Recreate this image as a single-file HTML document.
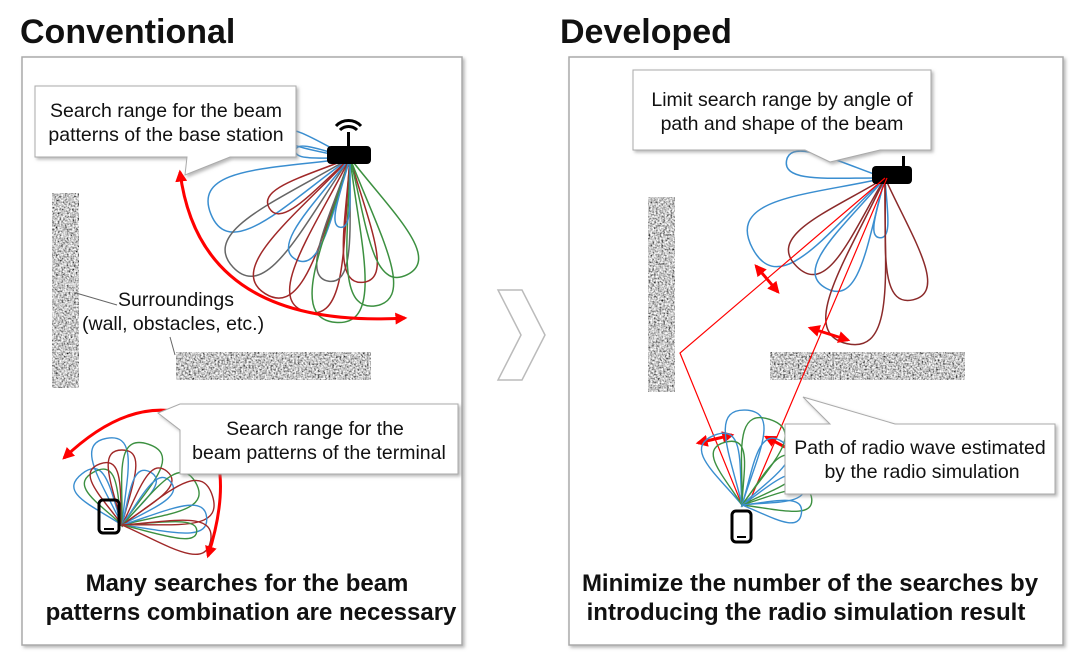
<!DOCTYPE html>
<html><head><meta charset="utf-8"><style>
body{margin:0;background:#fff;width:1070px;height:660px;overflow:hidden}
svg{display:block}
text{font-family:"Liberation Sans",Arial,sans-serif}
</style></head><body>
<svg width="1070" height="660" viewBox="0 0 1070 660" xmlns="http://www.w3.org/2000/svg">
<defs>
<filter id="noise" x="0" y="0" width="100%" height="100%">
<feTurbulence type="fractalNoise" baseFrequency="0.55" numOctaves="2" seed="3"/>
<feColorMatrix type="matrix" values="1.9 0 0 0 -0.38  1.9 0 0 0 -0.38  1.9 0 0 0 -0.38  0 0 0 0 1"/>
</filter>
<filter id="sh" x="-10%" y="-10%" width="130%" height="140%"><feDropShadow dx="2" dy="2" stdDeviation="1.5" flood-color="#888" flood-opacity="0.6"/></filter>
<marker id="ah" viewBox="0 0 10 10" refX="8" refY="5" markerWidth="4" markerHeight="4" orient="auto-start-reverse"><path d="M0,0L10,5L0,10z" fill="#f00"/></marker>
<path id="p" d="M0,0 C0.5,-0.45 1,-1.3 1,0 C1,1.3 0.5,0.45 0,0 Z" fill="none" vector-effect="non-scaling-stroke"/>
</defs>
<text x="20" y="43" font-size="34" font-weight="bold" fill="#111">Conventional</text>
<text x="560" y="43" font-size="34" font-weight="bold" fill="#111">Developed</text>
<rect x="22" y="57" width="440" height="588" fill="#fff" stroke="#aaa" stroke-width="1.5" filter="url(#sh)"/>
<rect x="569" y="57" width="494" height="588" fill="#fff" stroke="#aaa" stroke-width="1.5" filter="url(#sh)"/>
<path d="M498,290 L522,290 L545,335 L522,380 L498,380 L521,335 Z" fill="#fff" stroke="#bbb" stroke-width="1.5"/>
<rect x="52" y="193" width="27" height="195" filter="url(#noise)"/>
<rect x="176" y="352" width="195" height="28" filter="url(#noise)"/>
<rect x="648" y="197" width="27" height="195" filter="url(#noise)"/>
<rect x="770" y="352" width="195" height="28" filter="url(#noise)"/>
<g stroke-width="1.5" transform="translate(350,158)">
<use href="#p" stroke="#3a8ed0" transform="rotate(200) scale(70,10)"/>
<use href="#p" stroke="#3a8ed0" transform="rotate(188) scale(55,8)"/>
<use href="#p" stroke="#3a8ed0" transform="rotate(158) scale(150,40)"/>
<use href="#p" stroke="#666" transform="rotate(137) scale(160,38)"/>
<use href="#p" stroke="#a02828" transform="rotate(148) scale(95,18)"/>
<use href="#p" stroke="#a02828" transform="rotate(122) scale(160,36)"/>
<use href="#p" stroke="#3a8ed0" transform="rotate(118) scale(115,22)"/>
<use href="#p" stroke="#a02828" transform="rotate(106) scale(160,34)"/>
<use href="#p" stroke="#666" transform="rotate(100) scale(125,22)"/>
<use href="#p" stroke="#3c9040" transform="rotate(95) scale(165,38)"/>
<use href="#p" stroke="#a02828" transform="rotate(84) scale(125,24)"/>
<use href="#p" stroke="#3c9040" transform="rotate(80) scale(150,32)"/>
<use href="#p" stroke="#3c9040" transform="rotate(64) scale(130,30)"/>
<use href="#p" stroke="#3a8ed0" transform="rotate(98) scale(70,10)"/>
</g>
<rect x="327" y="146" width="44" height="18" rx="4" fill="#000"/>
<rect x="347" y="132" width="3" height="14" fill="#000"/>
<path d="M340,130 a12,12 0 0 1 17,0 M336,126 a17,17 0 0 1 25,0" stroke="#000" stroke-width="3" fill="none"/>
<path d="M180,172 Q200,330 405,318" fill="none" stroke="#f00" stroke-width="3" marker-start="url(#ah)" marker-end="url(#ah)"/>
<path d="M35,86 L296,86 L296,157 L230,157 L185,175 L187,157 L35,157 Z" fill="#fff" stroke="#aaa" filter="url(#sh)"/>
<text font-size="19.5" fill="#111"><tspan x="166" y="117" text-anchor="middle">Search range for the beam</tspan><tspan x="166" y="141" text-anchor="middle">patterns of the base station</tspan></text>
<path d="M76,293 L117,305 M170,337 L175,355" stroke="#666" fill="none"/>
<text font-size="19.5" fill="#111"><tspan x="118" y="306">Surroundings</tspan><tspan x="82" y="330">(wall, obstacles, etc.)</tspan></text>
<g stroke-width="1.4" transform="translate(122,525)">
<use href="#p" stroke="#3a8ed0" transform="rotate(-128) scale(65,24)"/>
<use href="#p" stroke="#3c9040" transform="rotate(-118) scale(60,22)"/>
<use href="#p" stroke="#3a8ed0" transform="rotate(-100) scale(88,26)"/>
<use href="#p" stroke="#a02828" transform="rotate(-110) scale(65,20)"/>
<use href="#p" stroke="#a02828" transform="rotate(-90) scale(75,20)"/>
<use href="#p" stroke="#3c9040" transform="rotate(-72) scale(85,28)"/>
<use href="#p" stroke="#3a8ed0" transform="rotate(-62) scale(60,16)"/>
<use href="#p" stroke="#a02828" transform="rotate(-50) scale(70,18)"/>
<use href="#p" stroke="#3a8ed0" transform="rotate(-42) scale(65,16)"/>
<use href="#p" stroke="#3c9040" transform="rotate(-30) scale(85,26)"/>
<use href="#p" stroke="#a02828" transform="rotate(-18) scale(95,30)"/>
<use href="#p" stroke="#3a8ed0" transform="rotate(-5) scale(85,20)"/>
<use href="#p" stroke="#3c9040" transform="rotate(5) scale(75,12)"/>
<use href="#p" stroke="#a02828" transform="rotate(10) scale(90,24)"/>
</g>
<rect x="99" y="500" width="20" height="33" rx="4" fill="none" stroke="#000" stroke-width="3"/>
<rect x="104" y="528" width="10" height="2" fill="#000"/>
<path d="M64,458 Q130,395 190,415 Q240,455 208,556" fill="none" stroke="#f00" stroke-width="3" marker-start="url(#ah)" marker-end="url(#ah)"/>
<path d="M158,413 L180,404 L458,404 L458,474 L180,474 L180,430 Z" fill="#fff" stroke="#aaa" filter="url(#sh)"/>
<text font-size="19.5" fill="#111"><tspan x="315" y="435" text-anchor="middle">Search range for the</tspan><tspan x="319" y="459" text-anchor="middle">beam patterns of the terminal</tspan></text>
<text font-size="24" font-weight="bold" fill="#111"><tspan x="247" y="591" text-anchor="middle">Many searches for the beam</tspan><tspan x="251" y="620" text-anchor="middle">patterns combination are necessary</tspan></text>

<g stroke-width="1.5" transform="translate(885,178)">
<use href="#p" stroke="#3a8ed0" transform="rotate(190) scale(100,18)"/>
<use href="#p" stroke="#3a8ed0" transform="rotate(152) scale(150,45)"/>
<use href="#p" stroke="#8b2a2a" transform="rotate(135) scale(125,34)"/>
<use href="#p" stroke="#3a8ed0" transform="rotate(118) scale(125,30)"/>
<use href="#p" stroke="#8b2a2a" transform="rotate(103) scale(170,40)"/>
<use href="#p" stroke="#3a8ed0" transform="rotate(95) scale(60,10)"/>
<use href="#p" stroke="#8b2a2a" transform="rotate(77) scale(125,28)"/>
</g>
<rect x="872" y="166" width="40" height="18" rx="4" fill="#000"/>
<rect x="902" y="156" width="3" height="12" fill="#000"/>
<path d="M885,178 L680,353 L742,505 M887,178 L748,505" stroke="#f00" stroke-width="1.2" fill="none"/>
<g stroke="#f00" stroke-width="3" fill="none">
<path d="M756,266 L778,292" marker-start="url(#ah)" marker-end="url(#ah)"/>
<path d="M810,328 L848,340" marker-start="url(#ah)" marker-end="url(#ah)"/>
<path d="M698,443 L732,435" marker-start="url(#ah)" marker-end="url(#ah)"/>
<path d="M766,437 L785,447" marker-start="url(#ah)"/>
</g>
<g stroke-width="1.4" transform="translate(742,505)">
<use href="#p" stroke="#3a8ed0" transform="rotate(-112) scale(75,26)"/>
<use href="#p" stroke="#3c9040" transform="rotate(-105) scale(65,22)"/>
<use href="#p" stroke="#3a8ed0" transform="rotate(-88) scale(95,28)"/>
<use href="#p" stroke="#3c9040" transform="rotate(-72) scale(90,30)"/>
<use href="#p" stroke="#3a8ed0" transform="rotate(-58) scale(75,22)"/>
<use href="#p" stroke="#3c9040" transform="rotate(-40) scale(70,18)"/>
<use href="#p" stroke="#3a8ed0" transform="rotate(-20) scale(65,18)"/>
<use href="#p" stroke="#3c9040" transform="rotate(-5) scale(70,16)"/>
<use href="#p" stroke="#3a8ed0" transform="rotate(8) scale(60,16)"/>
</g>
<rect x="732" y="511" width="19" height="31" rx="4" fill="none" stroke="#000" stroke-width="3"/>
<rect x="737" y="536" width="9" height="2" fill="#000"/>
<path d="M633,70 L931,70 L931,150 L880,150 L830,162 L805,150 L633,150 Z" fill="#fff" stroke="#aaa" filter="url(#sh)"/>
<text font-size="19.5" fill="#111"><tspan x="782" y="106" text-anchor="middle">Limit search range by angle of</tspan><tspan x="782" y="130" text-anchor="middle">path and shape of the beam</tspan></text>
<path d="M785,424 L830,424 L803,397 L895,424 L1055,424 L1055,494 L785,494 Z" fill="#fff" stroke="#aaa" filter="url(#sh)"/>
<text font-size="19.5" fill="#111"><tspan x="920" y="454" text-anchor="middle">Path of radio wave estimated</tspan><tspan x="922" y="478" text-anchor="middle">by the radio simulation</tspan></text>
<text font-size="24" font-weight="bold" fill="#111"><tspan x="810" y="591" text-anchor="middle">Minimize the number of the searches by</tspan><tspan x="806" y="620" text-anchor="middle">introducing the radio simulation result</tspan></text>
</svg>
</body></html>
